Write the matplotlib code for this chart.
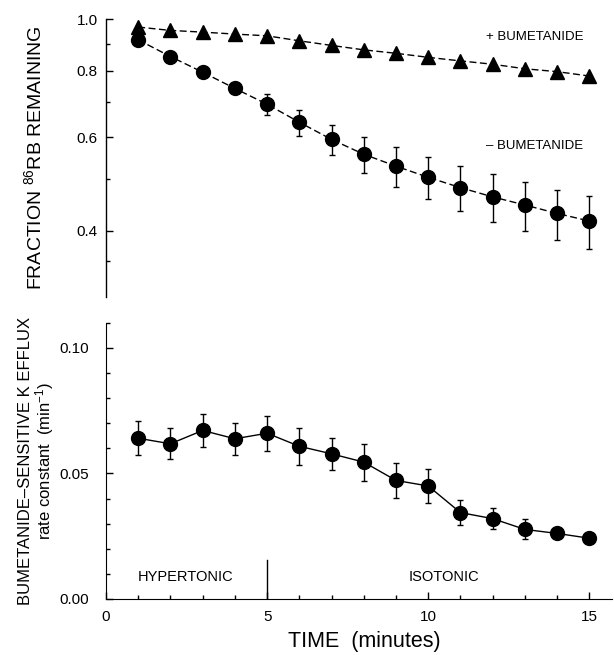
import numpy as np
import matplotlib
matplotlib.use("Agg")
import matplotlib.pyplot as plt
from matplotlib.ticker import FixedLocator, FixedFormatter, NullFormatter, MultipleLocator

plt.rcParams['font.family'] = ['Liberation Sans', 'DejaVu Sans']
plt.rcParams['mathtext.default'] = 'regular'

# ---- data ----
time_min = [1, 2, 3, 4, 5, 6, 7, 8, 9, 10, 11, 12, 13, 14, 15]

frac_plus_bum = [0.967, 0.953, 0.946, 0.938, 0.931, 0.911, 0.893, 0.876, 0.863,
                 0.848, 0.835, 0.823, 0.807, 0.797, 0.782]
frac_minus_bum = [0.915, 0.851, 0.795, 0.741, 0.692, 0.640, 0.594, 0.557, 0.529,
                  0.504, 0.482, 0.463, 0.447, 0.431, 0.417]
frac_minus_err = [0.008, 0.010, 0.012, 0.015, 0.031, 0.036, 0.039, 0.043, 0.045,
                  0.046, 0.047, 0.048, 0.047, 0.047, 0.047]

rate_const = [0.0640, 0.0618, 0.0671, 0.0638, 0.0660, 0.0608, 0.0578, 0.0545,
              0.0472, 0.0450, 0.0344, 0.0320, 0.0277, 0.0261, 0.0242]
rate_err = [0.0068, 0.0061, 0.0065, 0.0064, 0.0070, 0.0073, 0.0063, 0.0074,
            0.0068, 0.0066, 0.0051, 0.0043, 0.0040, 0.0015, 0.0010]

top_major = [0.4, 0.6, 0.8, 1.0]
top_major_labels = ['0.4', '0.6', '0.8', '1.0']
top_minor = [0.35, 0.5, 0.7, 0.9]

fig = plt.figure(figsize=(6.14, 6.55), dpi=100)

ax1 = fig.add_axes([0.1726, 0.5466, 0.824, 0.4239])
ax2 = fig.add_axes([0.1726, 0.0855, 0.824, 0.4218])

# ---- top panel ----
dash = (0, (5, 2.5))
ax1.plot(time_min, frac_plus_bum, color='black', linestyle=dash, linewidth=1.0,
         marker='^', markersize=10, markerfacecolor='black', markeredgecolor='black')
ax1.errorbar(time_min, frac_minus_bum, yerr=frac_minus_err, color='black',
             linestyle=dash, linewidth=1.0, marker='o', markersize=10,
             capsize=2.5, elinewidth=1.0, capthick=1.0)
ax1.set_yscale('log')
ax1.set_ylim(0.30, 1.0)
ax1.set_xlim(0, 15.7)
ax1.yaxis.set_major_locator(FixedLocator(top_major))
ax1.yaxis.set_major_formatter(FixedFormatter(top_major_labels))
ax1.yaxis.set_minor_locator(FixedLocator(top_minor))
ax1.yaxis.set_minor_formatter(NullFormatter())
for s in ['top', 'right', 'bottom']:
    ax1.spines[s].set_visible(False)
ax1.spines['left'].set_linewidth(1.0)
ax1.tick_params(axis='x', which='both', bottom=False, labelbottom=False)
ax1.tick_params(axis='y', which='major', direction='in', length=5, width=1,
                labelsize=11, pad=6)
ax1.tick_params(axis='y', which='minor', direction='in', length=3, width=1)
ax1.set_ylabel(r'FRACTION $^{86}$RB REMAINING', fontsize=14)
ax1.yaxis.set_label_coords(-0.12, 0.5)
ax1.text(11.8, 0.925, '+ BUMETANIDE', fontsize=9.5, ha='left', va='center')
ax1.text(11.8, 0.578, '\u2013 BUMETANIDE', fontsize=9.5, ha='left', va='center')

# ---- bottom panel ----
ax2.errorbar(time_min, rate_const, yerr=rate_err, color='black', linestyle='-',
             linewidth=1.0, marker='o', markersize=10, capsize=2.5,
             elinewidth=1.0, capthick=1.0)
ax2.set_xlim(0, 15.7)
ax2.set_ylim(0, 0.11)
ax2.xaxis.set_major_locator(FixedLocator([0, 5, 10, 15]))
ax2.xaxis.set_minor_locator(MultipleLocator(1))
ax2.yaxis.set_major_locator(FixedLocator([0.0, 0.05, 0.10]))
ax2.yaxis.set_major_formatter(FixedFormatter(['0.00', '0.05', '0.10']))
ax2.yaxis.set_minor_locator(MultipleLocator(0.01))
for s in ['top', 'right']:
    ax2.spines[s].set_visible(False)
ax2.tick_params(axis='both', which='major', direction='in', length=5, width=1,
                labelsize=11)
ax2.tick_params(axis='y', which='major', pad=12)
ax2.tick_params(axis='x', which='major', pad=8)
ax2.tick_params(axis='both', which='minor', direction='in', length=3, width=1)
ax2.axvline(5, ymin=0, ymax=0.0155 / 0.11, color='black', linewidth=1.0)
ax2.text(2.47, 0.0088, 'HYPERTONIC', fontsize=10.5, ha='center', va='center')
ax2.text(10.5, 0.0088, 'ISOTONIC', fontsize=10.5, ha='center', va='center')
ax2.set_ylabel('BUMETANIDE\u2013SENSITIVE K EFFLUX\nrate constant  (min$^{-1}$)',
               fontsize=12, linespacing=1.0)
ax2.yaxis.set_label_coords(-0.099, 0.5)
ax2.set_xlabel('TIME  (minutes)', fontsize=15.5)
ax2.xaxis.set_label_coords(0.511, -0.115)

fig.savefig('out.png', dpi=100)
